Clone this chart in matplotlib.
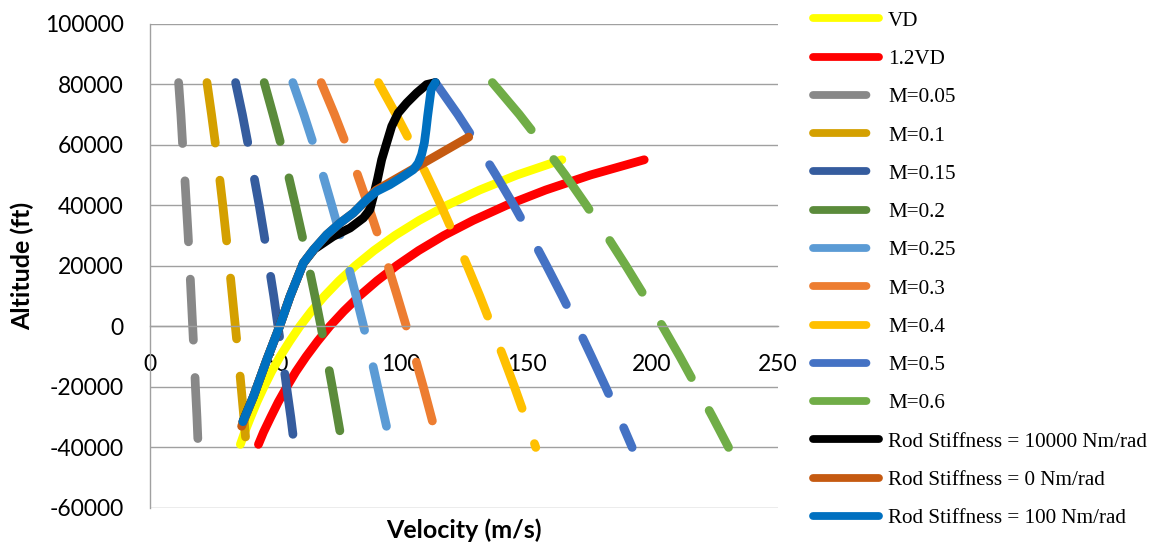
import matplotlib
matplotlib.use('Agg')
import matplotlib.pyplot as plt
from matplotlib.lines import Line2D

plt.rcParams['lines.scale_dashes'] = False

# ---------------- data ----------------
x_ticks = [0, 50, 100, 150, 200, 250]
y_ticks = [-60000, -40000, -20000, 0, 20000, 40000, 60000, 80000, 100000]

# Design dive speed VD and 1.2 VD (m/s) vs altitude (ft)
vd_alt = [-39000, -35000, -30000, -25000, -20000, -15000, -10000, -5000, 0, 5000,
          10000, 15000, 20000, 25000, 30000, 35000, 40000, 45000, 50000, 55000]
vd_speed = [36.0, 37.7, 40.1, 42.6, 45.4, 48.4, 51.8, 55.6, 59.7, 64.3,
            69.5, 75.3, 81.8, 89.2, 97.6, 107.3, 118.4, 131.3, 146.3, 164.1]
vd12_speed = [43.2, 45.2, 48.1, 51.1, 54.5, 58.1, 62.2, 66.7, 71.6, 77.2,
              83.4, 90.4, 98.2, 107.0, 117.1, 128.8, 142.1, 157.6, 175.6, 196.9]

# Constant Mach lines (m/s) vs altitude (ft)
mach_alt = [80500, 70000, 60000, 50000, 40000, 30000, 20000, 10000, 0,
            -10000, -20000, -30000, -40000]
m005 = [11.4, 12.3, 13.0, 13.8, 14.5, 15.2, 15.8, 16.4, 17.0, 17.6, 18.1, 18.7, 19.2]
m010 = [22.7, 24.5, 26.1, 27.6, 29.0, 30.3, 31.6, 32.8, 34.0, 35.2, 36.3, 37.4, 38.4]
m015 = [34.1, 36.8, 39.1, 41.3, 43.5, 45.5, 47.4, 49.3, 51.0, 52.8, 54.4, 56.1, 57.6]
m020 = [45.5, 49.0, 52.2, 55.1, 57.9, 60.6, 63.2, 65.7, 68.1, 70.4, 72.6, 74.7, 76.8]
m025 = [56.9, 61.3, 65.2, 68.9, 72.4, 75.8, 79.0, 82.1, 85.1, 88.0, 90.7, 93.4, 96.1]
m030 = [68.2, 73.5, 78.2, 82.7, 86.9, 90.9, 94.8, 98.5, 102.1, 105.5, 108.9, 112.1, 115.3]
m040 = [91.0, 98.0, 104.3, 110.2, 115.9, 121.2, 126.4, 131.4, 136.1, 140.7, 145.2, 149.5, 153.7]
m050 = [113.7, 122.6, 130.4, 137.8, 144.9, 151.6, 158.0, 164.2, 170.2, 175.9, 181.5, 186.9, 192.1]
m060 = [136.4, 147.1, 156.5, 165.4, 173.8, 181.9, 189.6, 197.0, 204.2, 211.1, 217.7, 224.2, 230.5]

# Trajectories for rod stiffness cases
rod10000_speed = [37.0, 41.2, 46.5, 51.1, 55.8, 61.1, 65.5, 73.0, 79.7, 85.0, 87.6, 89.0,
                  90.6, 92.3, 94.3, 96.3, 98.9, 102.3, 106.3, 110.2, 113.7]
rod10000_alt = [-31500, -23200, -11100, -1200, 9900, 20900, 25500, 29690, 32460, 35770, 38510, 42910,
                48430, 55040, 60570, 66050, 70480, 73790, 77100, 79840, 80500]
rod0_speed = [36.5, 41.2, 46.5, 51.1, 55.8, 61.1, 65.1, 70.4, 75.7, 81.0, 86.3, 90.0, 127.0]
rod0_alt = [-33000, -23200, -11100, -1200, 9900, 20900, 25290, 30250, 34110, 37420, 41820, 44900, 62500]
rod100_speed = [37.0, 41.2, 46.5, 51.1, 55.8, 61.1, 65.1, 70.4, 75.7, 81.0, 86.3, 90.3, 95.6,
                100.9, 104.9, 106.9, 108.2, 109.3, 110.0, 110.6, 111.3, 112.0, 113.7]
rod100_alt = [-31500, -23200, -11100, -1200, 9900, 20900, 25290, 30250, 34110, 37420, 41820, 44570, 46780,
              49520, 51740, 53950, 56700, 60570, 64960, 69360, 73790, 78190, 80500]

mach_labels = ['M=0.05', 'M=0.1', 'M=0.15', 'M=0.2', 'M=0.25', 'M=0.3', 'M=0.4', 'M=0.5', 'M=0.6']
mach_series = [m005, m010, m015, m020, m025, m030, m040, m050, m060]
mach_colors = ['#888888', '#D4A000', '#355C9E', '#5B8B3B', '#5B9BD5', '#ED7D31',
               '#FFC000', '#4472C4', '#70AD47']

# ---------------- figure ----------------
W, H = 1157, 544
fig = plt.figure(figsize=(W / 100, H / 100), dpi=100)
ax = fig.add_axes([150 / W, 1 - 508 / H, 627.5 / W, 484.5 / H])

LW = 6.3
DASH = (44.0, 26.9)

handles = []
labels = []

def solid(x, y, color, label):
    ax.plot(x, y, color=color, lw=LW, solid_capstyle='round', solid_joinstyle='round')
    handles.append(Line2D([], [], color=color, lw=5.6, solid_capstyle='round'))
    labels.append(label)

solid(vd_speed, vd_alt, '#FFFF00', 'VD')
solid(vd12_speed, vd_alt, '#FF0000', '1.2VD')

for lab, xs, col in zip(mach_labels, mach_series, mach_colors):
    ax.plot(xs, mach_alt, color=col, lw=LW, dashes=DASH, dash_capstyle='round',
            dash_joinstyle='round')
    handles.append(Line2D([], [], color=col, lw=5.6, dashes=(38.5, 40.0),
                          dash_capstyle='round'))
    labels.append(lab)

solid(rod10000_speed, rod10000_alt, '#000000', 'Rod Stiffness = 10000 Nm/rad')
solid(rod0_speed, rod0_alt, '#C55A11', 'Rod Stiffness = 0 Nm/rad')
solid(rod100_speed, rod100_alt, '#0070C0', 'Rod Stiffness = 100 Nm/rad')

ax.set_xlim(0, 250)
ax.set_ylim(-60000, 100000)
ax.set_xticks(x_ticks)
ax.set_xticklabels([str(v) for v in x_ticks])
ax.set_yticks(y_ticks)
ax.set_yticklabels([str(v) for v in y_ticks])

grid_c = '#A0A0A0'
ax.yaxis.grid(True, color=grid_c, lw=1.0)
ax.set_axisbelow(True)
for s in ['top', 'right']:
    ax.spines[s].set_visible(False)
ax.spines['left'].set_color(grid_c)
ax.spines['left'].set_linewidth(1.0)
ax.spines['bottom'].set_position(('data', 0))
ax.spines['bottom'].set_color(grid_c)
ax.spines['bottom'].set_linewidth(1.0)

ax.tick_params(axis='both', length=0, labelsize=16.5)
ax.tick_params(axis='x', pad=20)
ax.tick_params(axis='y', pad=19)
for t in ax.get_xticklabels() + ax.get_yticklabels():
    t.set_fontfamily('Lato')

fig.text(463.75 / W, 1 - 530 / H, 'Velocity (m/s)', ha='center', va='center',
         fontsize=18, fontweight='bold', family='Lato')
fig.text(22 / W, 1 - 266 / H, 'Altitude (ft)', ha='center', va='center', rotation=90,
         fontsize=18, fontweight='bold', family='Lato')

leg = fig.legend(handles, labels, loc='upper left', bbox_to_anchor=(813.3 / W, 1 - 11.0 / H),
                 frameon=False, prop=dict(family='Liberation Serif', size=15.2),
                 handlelength=3.1, handletextpad=0.45, labelspacing=0.876,
                 borderpad=0, borderaxespad=0)

fig.savefig('out.png', dpi=100)
